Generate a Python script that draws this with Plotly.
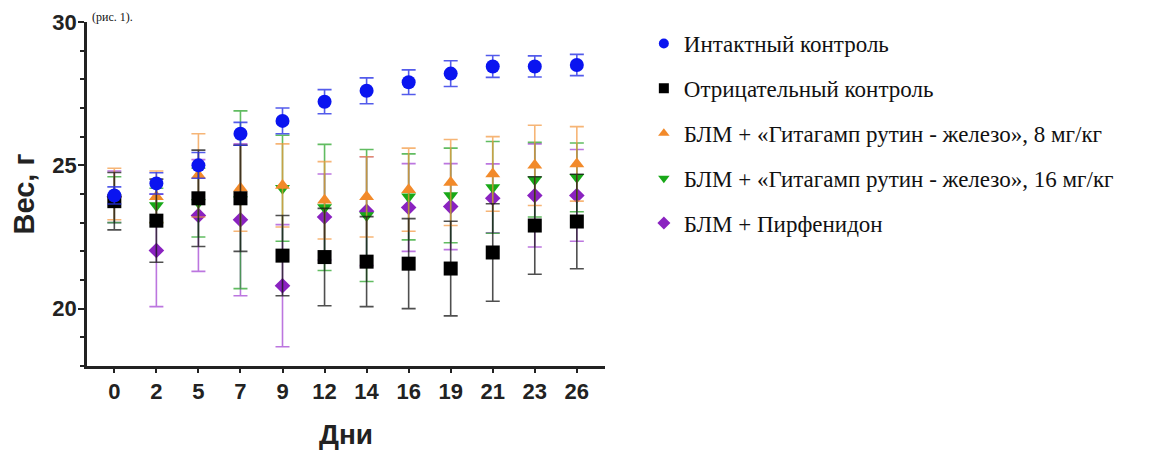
import plotly.graph_objects as go

days = ["0", "2", "5", "7", "9", "12", "14", "16", "19", "21", "23", "26"]

names = [
    "Интактный контроль",
    "Отрицательный контроль",
    "БЛМ + «Гитагамп рутин - железо», 8 мг/кг",
    "БЛМ + «Гитагамп рутин - железо», 16 мг/кг",
    "БЛМ + Пирфенидон",
]

intact = [23.95, 24.37, 25.0, 26.1, 26.55, 27.22, 27.6, 27.9, 28.2, 28.45, 28.45, 28.5]
intact_err = [0.3, 0.37, 0.45, 0.4, 0.45, 0.42, 0.45, 0.43, 0.45, 0.38, 0.37, 0.37]

negative = [23.75, 23.07, 23.85, 23.85, 21.85, 21.8, 21.64, 21.57, 21.4, 21.96, 22.9, 23.04]
negative_err = [1.0, 1.45, 1.68, 1.85, 1.4, 1.7, 1.57, 1.57, 1.65, 1.7, 1.7, 1.65]

gita8 = [24.0, 23.9, 24.65, 24.2, 24.3, 23.78, 23.9, 24.15, 24.4, 24.7, 25.0, 25.05]
gita8_err = [0.9, 0.9, 1.45, 1.5, 1.45, 1.35, 1.4, 1.45, 1.5, 1.3, 1.4, 1.3]

gita16 = [23.8, 23.6, 23.7, 23.8, 24.2, 23.53, 23.25, 23.9, 23.95, 24.23, 24.5, 24.58]
gita16_err = [0.8, 0.6, 1.2, 3.1, 1.85, 2.2, 2.3, 1.5, 1.65, 1.6, 1.3, 1.2]

pirf = [23.9, 22.03, 23.25, 23.1, 20.8, 23.2, 23.4, 23.53, 23.56, 23.85, 23.95, 23.95]
pirf_err = [0.9, 1.96, 1.95, 2.65, 2.13, 1.5, 1.9, 1.53, 1.5, 1.2, 1.8, 1.6]

series = [
    (names[0], intact, intact_err, "#0a14f0", "rgba(40,50,230,0.8)", "circle", 14),
    (names[1], negative, negative_err, "#000000", "rgba(20,20,20,0.75)", "square", 14),
    (names[2], gita8, gita8_err, "#f28a2a", "rgba(242,150,60,0.7)", "triangle-up", 13),
    (names[3], gita16, gita16_err, "#18a818", "rgba(30,160,30,0.7)", "triangle-down", 13),
    (names[4], pirf, pirf_err, "#8a22c0", "rgba(160,60,210,0.7)", "diamond", 12),
]

fig = go.Figure()

# legend entries (small markers) in original order
for i, (name, vals, err, col, ecol, sym, size) in enumerate(series):
    fig.add_trace(go.Scatter(
        x=[None], y=[None], mode="markers", name=name,
        marker=dict(color=col, symbol=sym, size=10),
        legendgroup=f"g{i}", showlegend=True,
    ))

# data traces, drawn so that the first series lies on top
for i, (name, vals, err, col, ecol, sym, size) in reversed(list(enumerate(series))):
    fig.add_trace(go.Scatter(
        x=days, y=vals, mode="markers", name=name,
        marker=dict(color=col, symbol=sym, size=size, line=dict(width=0)),
        error_y=dict(type="data", array=err, visible=True, color=ecol,
                     thickness=1.6, width=7),
        legendgroup=f"g{i}", showlegend=False,
    ))

fig.update_layout(
    width=1163, height=450,
    margin=dict(l=79, r=566, t=14, b=92),
    paper_bgcolor="white", plot_bgcolor="white",
    showlegend=True,
    legend=dict(
        x=1.075, y=1.0, xanchor="left", yanchor="top",
        font=dict(family="Times New Roman", size=23, color="#111"),
        tracegroupgap=12, itemwidth=30, bgcolor="rgba(0,0,0,0)",
        maxheight=1,
    ),
    font=dict(family="Liberation Sans, Arial, sans-serif", color="#222"),
    annotations=[dict(
        text="(рис. 1).", xref="paper", yref="paper", x=0.006, y=1.04,
        xanchor="left", yanchor="top", showarrow=False,
        font=dict(family="Times New Roman", size=12, color="#111"),
    )],
)

fig.update_xaxes(
    type="category", categoryorder="array", categoryarray=days,
    range=[-0.65, 11.67], automargin=False,
    showline=True, linecolor="#222", linewidth=2.5,
    ticks="outside", ticklen=4, tickwidth=2, tickcolor="#222",
    tickfont=dict(size=22, weight="bold", color="#222"),
    ticklabelstandoff=0,
    showgrid=False, zeroline=False,
    title=dict(text="Дни", font=dict(size=28, weight="bold", color="#222"), standoff=22),
)
fig.update_yaxes(
    range=[18, 30], tickvals=[20, 25, 30], automargin=False,
    showline=True, linecolor="#222", linewidth=2.5,
    ticks="outside", ticklen=6, tickwidth=2, tickcolor="#222",
    tickfont=dict(size=22, weight="bold", color="#222"),
    ticklabelstandoff=-3,
    minor=dict(dtick=1, tick0=18, ticks="outside", ticklen=4, tickwidth=1.5, tickcolor="#222"),
    showgrid=False, zeroline=False,
    title=dict(text="Вес, г", font=dict(size=29, weight="bold", color="#222"), standoff=14),
)

fig.write_html("out.html")
